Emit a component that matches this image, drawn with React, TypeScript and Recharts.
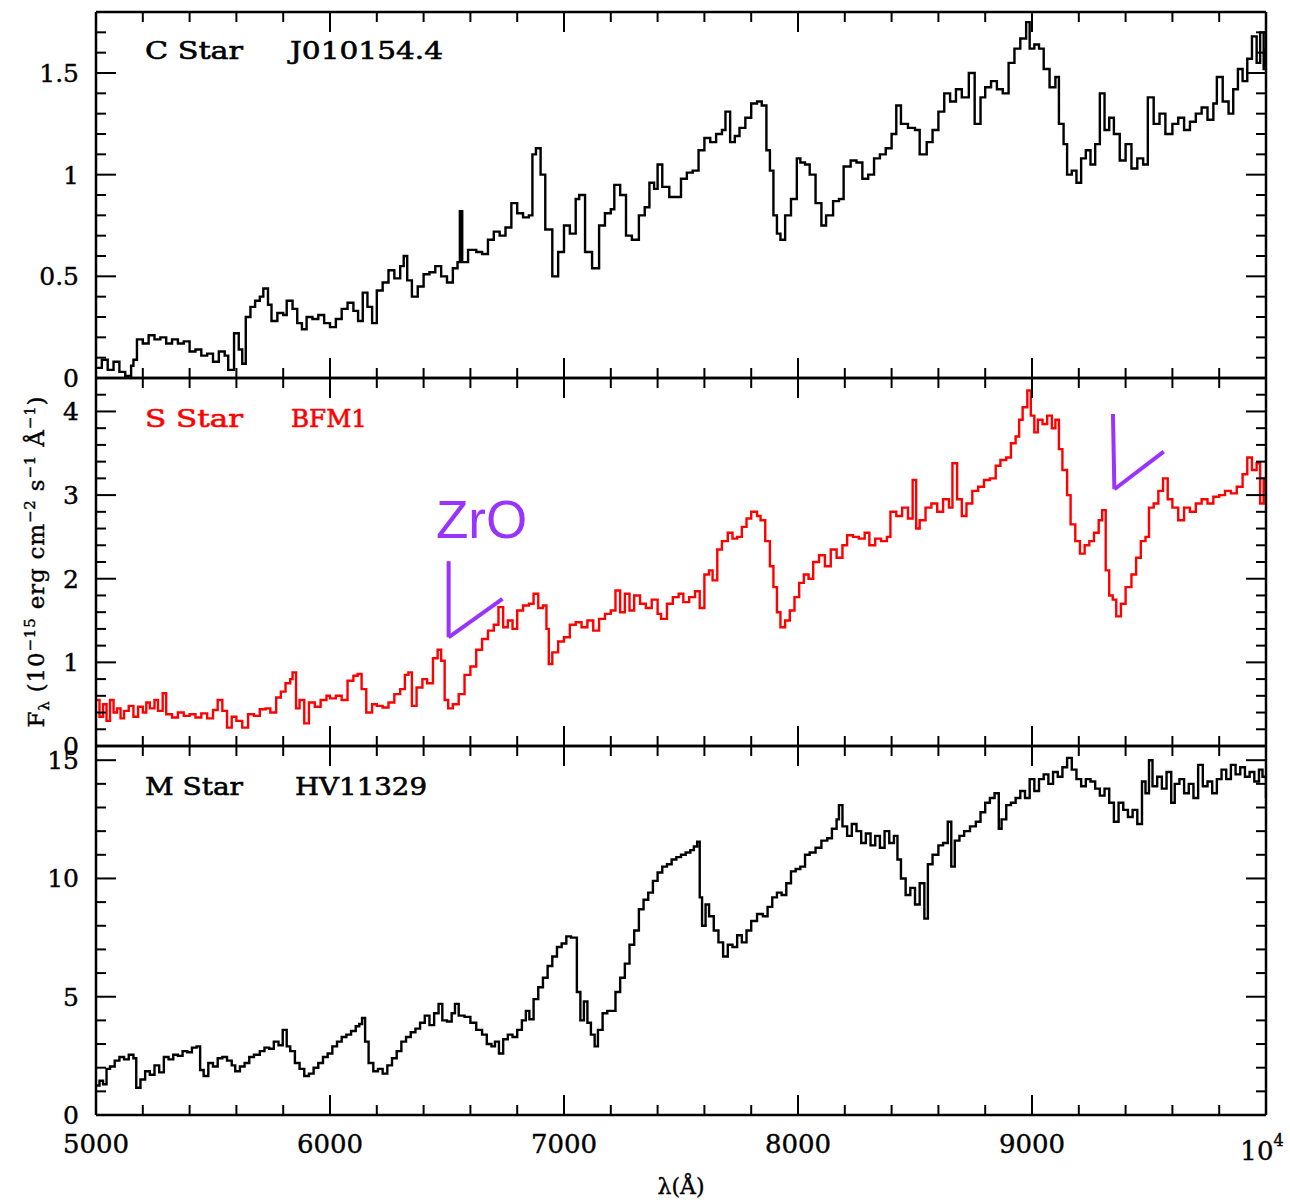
import React from 'react';
import { LineChart, Line, XAxis, YAxis, ReferenceLine, ReferenceDot } from 'recharts';

// wavelength (Å), flux (10^-15 erg cm^-2 s^-1 Å^-1)
const cStar: [number, number][] = [
  [5000, 0.05], [5025, 0.09], [5050, 0.04], [5075, 0.08], [5100, 0.03], [5125, 0.01], [5150, 0.06], [5160, 0.09],
  [5175, 0.19], [5200, 0.17], [5225, 0.21], [5250, 0.19], [5275, 0.2], [5300, 0.17], [5325, 0.19], [5350, 0.17],
  [5375, 0.18], [5400, 0.13], [5425, 0.14], [5450, 0.11], [5475, 0.12], [5500, 0.08], [5525, 0.13], [5550, 0.11],
  [5565, 0.04], [5590, 0.22], [5610, 0.14], [5625, 0.07], [5640, 0.3], [5660, 0.35], [5680, 0.38], [5700, 0.4],
  [5715, 0.44], [5735, 0.36], [5750, 0.28], [5775, 0.32], [5800, 0.31], [5815, 0.38], [5840, 0.34], [5860, 0.27],
  [5880, 0.24], [5900, 0.3], [5925, 0.29], [5950, 0.31], [5975, 0.27], [6000, 0.25], [6025, 0.29], [6050, 0.34],
  [6075, 0.37], [6100, 0.33], [6120, 0.28], [6140, 0.42], [6160, 0.35], [6180, 0.27], [6200, 0.43], [6225, 0.47],
  [6250, 0.53], [6275, 0.49], [6300, 0.55], [6315, 0.6], [6330, 0.48], [6350, 0.4], [6375, 0.45], [6400, 0.51],
  [6425, 0.52], [6450, 0.55], [6475, 0.5], [6500, 0.47], [6525, 0.54], [6545, 0.57], [6555, 0.82], [6565, 0.57],
  [6590, 0.63], [6625, 0.62], [6650, 0.61], [6675, 0.68], [6700, 0.72], [6725, 0.7], [6750, 0.74], [6775, 0.86],
  [6800, 0.81], [6825, 0.79], [6850, 0.8], [6865, 1.1], [6880, 1.13], [6900, 1.0], [6920, 0.73], [6950, 0.5],
  [6975, 0.62], [7000, 0.75], [7025, 0.71], [7050, 0.88], [7065, 0.9], [7090, 0.62], [7120, 0.54], [7150, 0.75],
  [7175, 0.81], [7200, 0.83], [7215, 0.95], [7240, 0.9], [7265, 0.7], [7290, 0.68], [7320, 0.8], [7345, 0.84],
  [7365, 0.96], [7385, 0.93], [7400, 1.05], [7420, 0.94], [7450, 0.89], [7475, 0.89], [7500, 0.98], [7525, 1.01],
  [7550, 1.02], [7575, 1.12], [7600, 1.18], [7625, 1.16], [7650, 1.2], [7675, 1.22], [7690, 1.31], [7710, 1.16],
  [7730, 1.19], [7750, 1.23], [7775, 1.28], [7800, 1.35], [7825, 1.36], [7845, 1.34], [7865, 1.12], [7880, 1.02],
  [7895, 0.8], [7910, 0.71], [7925, 0.68], [7945, 0.8], [7970, 0.88], [7995, 1.08], [8010, 1.06], [8030, 1.05],
  [8050, 1.0], [8075, 0.86], [8100, 0.75], [8120, 0.8], [8150, 0.87], [8175, 0.88], [8195, 1.04], [8225, 1.07],
  [8250, 1.06], [8275, 0.98], [8300, 1.0], [8325, 1.08], [8350, 1.1], [8375, 1.13], [8400, 1.2], [8420, 1.34],
  [8440, 1.25], [8470, 1.23], [8500, 1.22], [8520, 1.1], [8550, 1.16], [8575, 1.22], [8600, 1.31], [8625, 1.4],
  [8650, 1.36], [8675, 1.42], [8700, 1.38], [8730, 1.5], [8755, 1.25], [8780, 1.38], [8800, 1.43], [8825, 1.46],
  [8850, 1.42], [8875, 1.4], [8900, 1.55], [8925, 1.62], [8950, 1.67], [8975, 1.75], [8990, 1.62], [9010, 1.64],
  [9030, 1.62], [9050, 1.52], [9075, 1.43], [9100, 1.48], [9115, 1.25], [9135, 1.15], [9150, 1.0], [9170, 1.02],
  [9190, 0.96], [9210, 1.08], [9230, 1.12], [9250, 1.05], [9270, 1.15], [9290, 1.4], [9310, 1.22], [9330, 1.28],
  [9350, 1.2], [9375, 1.07], [9400, 1.15], [9425, 1.03], [9450, 1.08], [9475, 1.05], [9495, 1.38], [9520, 1.25],
  [9545, 1.3], [9570, 1.2], [9600, 1.25], [9625, 1.28], [9650, 1.22], [9675, 1.26], [9700, 1.3], [9725, 1.33],
  [9750, 1.27], [9775, 1.35], [9790, 1.48], [9815, 1.36], [9840, 1.3], [9860, 1.42], [9880, 1.52], [9900, 1.46],
  [9920, 1.57], [9940, 1.68], [9960, 1.55], [9975, 1.7], [9990, 1.52], [10000, 1.62],
];

const sStar: [number, number][] = [
  [5000, 0.55], [5015, 0.35], [5030, 0.5], [5045, 0.3], [5060, 0.55], [5075, 0.4], [5090, 0.45], [5105, 0.33],
  [5120, 0.42], [5140, 0.48], [5160, 0.35], [5180, 0.47], [5200, 0.4], [5215, 0.52], [5230, 0.45], [5250, 0.55],
  [5265, 0.42], [5285, 0.63], [5300, 0.38], [5325, 0.34], [5350, 0.4], [5375, 0.36], [5400, 0.38], [5425, 0.34],
  [5450, 0.39], [5475, 0.33], [5500, 0.43], [5520, 0.55], [5540, 0.42], [5560, 0.22], [5580, 0.35], [5600, 0.3],
  [5625, 0.22], [5650, 0.38], [5675, 0.36], [5700, 0.44], [5725, 0.45], [5745, 0.4], [5770, 0.58], [5790, 0.65],
  [5810, 0.75], [5830, 0.8], [5840, 0.88], [5855, 0.45], [5870, 0.55], [5890, 0.27], [5910, 0.52], [5935, 0.47],
  [5960, 0.55], [5985, 0.6], [6000, 0.57], [6025, 0.6], [6050, 0.55], [6075, 0.78], [6100, 0.84], [6118, 0.86],
  [6135, 0.68], [6155, 0.4], [6180, 0.5], [6200, 0.48], [6225, 0.46], [6250, 0.52], [6275, 0.62], [6300, 0.68],
  [6320, 0.85], [6335, 0.88], [6350, 0.48], [6370, 0.7], [6395, 0.8], [6415, 0.75], [6440, 1.05], [6460, 1.15],
  [6475, 1.02], [6490, 0.55], [6505, 0.45], [6525, 0.5], [6550, 0.62], [6575, 0.85], [6600, 0.95], [6625, 1.15],
  [6650, 1.28], [6675, 1.38], [6700, 1.45], [6720, 1.66], [6740, 1.42], [6760, 1.5], [6780, 1.4], [6800, 1.62],
  [6825, 1.68], [6850, 1.7], [6870, 1.82], [6890, 1.65], [6910, 1.68], [6925, 1.4], [6935, 0.98], [6950, 1.12],
  [6975, 1.25], [7000, 1.3], [7025, 1.45], [7050, 1.48], [7075, 1.42], [7100, 1.5], [7125, 1.38], [7150, 1.52],
  [7175, 1.58], [7200, 1.62], [7220, 1.86], [7240, 1.6], [7260, 1.82], [7280, 1.62], [7300, 1.8], [7325, 1.7],
  [7350, 1.65], [7375, 1.75], [7400, 1.58], [7415, 1.52], [7440, 1.7], [7465, 1.78], [7490, 1.82], [7510, 1.72],
  [7535, 1.78], [7560, 1.85], [7580, 1.65], [7600, 2.05], [7620, 2.1], [7635, 1.98], [7655, 2.35], [7675, 2.45],
  [7700, 2.55], [7720, 2.48], [7740, 2.5], [7760, 2.62], [7780, 2.72], [7800, 2.8], [7825, 2.75], [7840, 2.7],
  [7860, 2.45], [7880, 2.15], [7895, 1.9], [7910, 1.6], [7925, 1.42], [7945, 1.5], [7965, 1.62], [7985, 1.78],
  [8005, 1.95], [8025, 2.05], [8045, 2.0], [8065, 2.2], [8090, 2.28], [8115, 2.15], [8140, 2.35], [8165, 2.25],
  [8190, 2.4], [8210, 2.52], [8235, 2.5], [8260, 2.48], [8285, 2.55], [8305, 2.4], [8330, 2.48], [8355, 2.45],
  [8380, 2.5], [8395, 2.8], [8420, 2.75], [8445, 2.85], [8470, 2.72], [8490, 3.18], [8505, 2.6], [8520, 2.7],
  [8545, 2.85], [8570, 2.9], [8595, 2.8], [8620, 2.95], [8645, 2.85], [8660, 3.38], [8680, 2.95], [8700, 2.75],
  [8720, 2.9], [8745, 3.05], [8770, 3.1], [8795, 3.18], [8820, 3.2], [8845, 3.35], [8865, 3.42], [8890, 3.45],
  [8910, 3.62], [8930, 3.7], [8945, 3.9], [8960, 4.05], [8980, 4.25], [8995, 3.95], [9010, 3.75], [9025, 3.9],
  [9045, 3.85], [9065, 3.95], [9085, 3.8], [9100, 3.9], [9115, 3.55], [9130, 3.3], [9150, 3.0], [9165, 2.65],
  [9185, 2.45], [9205, 2.3], [9225, 2.4], [9245, 2.45], [9265, 2.55], [9285, 2.7], [9300, 2.82], [9315, 2.1],
  [9330, 1.8], [9345, 1.75], [9360, 1.55], [9380, 1.7], [9400, 1.9], [9425, 2.05], [9445, 2.25], [9465, 2.45],
  [9485, 2.5], [9500, 2.85], [9520, 2.9], [9540, 3.05], [9560, 3.2], [9580, 2.95], [9600, 2.85], [9625, 2.7],
  [9650, 2.85], [9675, 2.8], [9700, 2.9], [9725, 2.95], [9750, 2.9], [9775, 2.98], [9800, 3.0], [9825, 3.05],
  [9850, 3.02], [9875, 3.1], [9900, 3.25], [9920, 3.45], [9940, 3.3], [9960, 3.38], [9975, 2.9], [9990, 3.2],
  [10000, 3.05],
];

const mStar: [number, number][] = [
  [5000, 1.25], [5015, 1.45], [5030, 1.3], [5045, 1.95], [5060, 2.05], [5080, 2.3], [5100, 2.45], [5120, 2.35],
  [5140, 2.55], [5160, 2.4], [5172, 1.15], [5190, 1.5], [5210, 1.85], [5230, 1.7], [5250, 2.1], [5270, 1.8],
  [5290, 2.45], [5310, 2.35], [5330, 2.55], [5350, 2.5], [5370, 2.7], [5390, 2.65], [5410, 2.85], [5430, 2.9],
  [5445, 1.9], [5460, 1.65], [5480, 2.2], [5500, 2.05], [5520, 2.4], [5540, 2.45], [5560, 2.3], [5580, 2.1],
  [5595, 1.85], [5615, 2.05], [5635, 2.2], [5655, 2.45], [5675, 2.55], [5700, 2.7], [5720, 2.85], [5740, 2.8],
  [5760, 3.1], [5780, 2.95], [5798, 3.6], [5815, 2.9], [5830, 2.7], [5850, 2.2], [5870, 1.95], [5890, 1.65],
  [5910, 1.75], [5930, 2.0], [5950, 2.2], [5970, 2.45], [5990, 2.6], [6010, 2.9], [6030, 3.1], [6050, 3.3],
  [6070, 3.4], [6090, 3.55], [6110, 3.75], [6125, 3.85], [6137, 4.1], [6150, 3.1], [6165, 2.2], [6185, 1.85],
  [6205, 1.95], [6225, 1.75], [6245, 2.1], [6265, 2.4], [6285, 2.7], [6305, 3.1], [6325, 3.3], [6345, 3.5],
  [6365, 3.65], [6385, 3.9], [6405, 4.2], [6425, 3.8], [6445, 4.3], [6464, 4.7], [6480, 4.0], [6500, 3.95],
  [6520, 4.3], [6534, 4.7], [6550, 4.2], [6575, 4.15], [6600, 3.9], [6625, 3.6], [6650, 3.4], [6670, 3.0],
  [6690, 2.9], [6705, 3.1], [6722, 2.6], [6740, 3.2], [6760, 3.4], [6780, 3.3], [6800, 3.6], [6820, 4.0],
  [6837, 4.4], [6852, 4.05], [6870, 4.9], [6890, 5.4], [6910, 5.8], [6930, 6.3], [6950, 6.7], [6970, 7.1],
  [6990, 7.25], [7010, 7.55], [7030, 7.5], [7048, 7.5], [7055, 5.2], [7070, 4.0], [7085, 4.8], [7100, 3.9],
  [7115, 3.4], [7131, 2.9], [7145, 3.6], [7165, 4.3], [7185, 4.4], [7200, 4.4], [7220, 5.2], [7240, 5.8],
  [7260, 6.4], [7280, 7.2], [7300, 7.8], [7320, 8.7], [7340, 9.1], [7360, 9.4], [7380, 9.9], [7400, 10.25],
  [7420, 10.5], [7440, 10.6], [7460, 10.8], [7480, 10.9], [7500, 11.0], [7520, 11.1], [7540, 11.2], [7555, 11.35],
  [7569, 11.55], [7580, 9.2], [7590, 8.0], [7605, 8.9], [7620, 8.4], [7640, 7.8], [7660, 7.3], [7680, 6.7],
  [7700, 7.2], [7720, 7.1], [7740, 7.6], [7760, 7.3], [7780, 7.8], [7800, 8.2], [7825, 8.5], [7850, 8.4],
  [7870, 8.8], [7890, 9.2], [7910, 9.4], [7930, 9.3], [7950, 9.8], [7970, 10.3], [7990, 10.4], [8010, 10.5],
  [8030, 11.0], [8050, 11.1], [8075, 11.3], [8100, 11.6], [8125, 11.7], [8145, 12.1], [8165, 12.5], [8175, 13.1],
  [8190, 12.2], [8210, 11.8], [8230, 12.3], [8250, 12.0], [8270, 11.5], [8290, 11.9], [8310, 11.4], [8330, 11.8],
  [8350, 11.3], [8370, 12.0], [8390, 11.5], [8410, 11.8], [8425, 10.8], [8440, 10.0], [8460, 9.3], [8480, 9.6],
  [8500, 8.9], [8520, 9.8], [8540, 8.3], [8555, 10.6], [8575, 11.0], [8600, 11.4], [8620, 11.5], [8640, 12.4],
  [8655, 10.5], [8670, 11.6], [8690, 11.8], [8710, 12.0], [8735, 12.2], [8760, 12.4], [8780, 12.8], [8800, 13.2],
  [8820, 13.4], [8840, 13.6], [8858, 12.1], [8870, 12.5], [8890, 13.1], [8910, 13.2], [8930, 13.4], [8950, 13.7],
  [8970, 13.4], [8990, 14.2], [9010, 13.7], [9030, 14.2], [9050, 14.4], [9070, 14.0], [9090, 14.5], [9110, 14.3],
  [9130, 14.7], [9150, 15.1], [9170, 14.6], [9190, 14.2], [9210, 13.9], [9230, 14.2], [9250, 14.1], [9270, 13.8],
  [9290, 13.5], [9310, 13.8], [9330, 13.2], [9350, 12.4], [9370, 13.2], [9390, 12.9], [9410, 12.6], [9430, 12.9],
  [9450, 12.3], [9470, 14.1], [9485, 13.6], [9500, 15.0], [9515, 13.9], [9535, 14.3], [9555, 13.8], [9575, 14.5],
  [9595, 13.2], [9610, 14.0], [9630, 14.2], [9650, 13.6], [9670, 14.0], [9690, 13.4], [9710, 14.8], [9730, 13.9],
  [9750, 14.1], [9770, 13.6], [9790, 14.2], [9810, 14.6], [9830, 14.2], [9850, 14.8], [9870, 14.4], [9890, 14.7],
  [9910, 14.3], [9930, 14.5], [9950, 14.1], [9970, 14.6], [9985, 14.3], [10000, 13.4],
];

const waveTicks = [
  5000, 5200, 5400, 5600, 5800, 6000, 6200, 6400, 6600, 6800, 7000, 7200, 7400, 7600, 7800,
  8000, 8200, 8400, 8600, 8800, 9000, 9200, 9400, 9600, 9800, 10000,
];
const cTicks = [0, 0.1, 0.2, 0.3, 0.4, 0.5, 0.6, 0.7, 0.8, 0.9, 1, 1.1, 1.2, 1.3, 1.4, 1.5, 1.6, 1.7, 1.8];
const sTicks = [0, 0.2, 0.4, 0.6, 0.8, 1, 1.2, 1.4, 1.6, 1.8, 2, 2.2, 2.4, 2.6, 2.8, 3, 3.2, 3.4, 3.6, 3.8, 4, 4.2, 4.4];
const mTicks = [0, 1, 2, 3, 4, 5, 6, 7, 8, 9, 10, 11, 12, 13, 14, 15, 15.6];

// ZrO band markers in the S star panel: [wavelength, flux]
const zroMarkA: [number, number][] = [[6507, 2.21], [6507, 1.3], [6737, 1.76]];
const zroMarkB: [number, number][] = [[9346, 3.97], [9352, 3.07], [9563, 3.52]];
const zroText: [number, number] = [6453, 2.49];

const W = 1290;
const H = 1200;
const INK = '#000';
const VIOLET = '#9933ff';
const TICK_FONT = '"DejaVu Serif", serif';
const frame = { stroke: INK, strokeWidth: 2.5 };

const isMajor = (v: number, step: number) => Math.abs(v / step - Math.round(v / step)) < 1e-6;

function WaveTick(props: any) {
  const { x, y, payload, side, labels } = props;
  const v = payload.value;
  const major = isMajor(v, 1000);
  const len = major ? 20 : 10;
  const dir = side === 'bottom' ? -1 : 1;
  return (
    <g>
      <line x1={x} y1={y} x2={x} y2={y + dir * len} stroke={INK} strokeWidth={2} />
      {labels && major && v !== 10000 && (
        <text x={x} y={y + 38} textAnchor="middle" fontFamily={TICK_FONT} fontSize={26} fill={INK}
          stroke={INK} strokeWidth={0.4}>
          {v}
        </text>
      )}
      {labels && v === 10000 && (
        <text x={x - 4} y={y + 45} textAnchor="middle" fontFamily={TICK_FONT} fontSize={26} fill={INK}
          stroke={INK} strokeWidth={0.4}>
          10<tspan dy={-14} fontSize={16}>4</tspan>
        </text>
      )}
    </g>
  );
}

function FluxTick(props: any) {
  const { x, y, payload, side, step } = props;
  const v = payload.value;
  if (!isMajor(v, step / 5)) return <g />;
  const major = isMajor(v, step);
  const len = major ? 20 : 10;
  const dir = side === 'left' ? 1 : -1;
  return (
    <g>
      <line x1={x} y1={y} x2={x + dir * len} y2={y} stroke={INK} strokeWidth={2} />
      {side === 'left' && major && (
        <text x={x - 17} y={y + 9} textAnchor="end" fontFamily={TICK_FONT} fontSize={25} fill={INK}
          stroke={INK} strokeWidth={0.4}>
          {String(v)}
        </text>
      )}
    </g>
  );
}

type PanelProps = {
  data: [number, number][];
  color: string;
  ticks: number[];
  step: number;
  top: number;
  bottom: number;
  waveLabels?: boolean;
  children?: React.ReactNode;
};

// axes are 1px deep so they still render; margins absorb that pixel
function Panel({ data, color, ticks, step, top, bottom, waveLabels, children }: PanelProps) {
  const rows = data.map(([w, f]) => ({ w, f }));
  const yDomain = [ticks[0], ticks[ticks.length - 1]];
  return (
    <div style={{ position: 'absolute', left: 0, top: 0 }}>
      <LineChart width={W} height={H} data={rows} margin={{ top: top - 1, right: 23, bottom: H - bottom - 1, left: 36 }}>
        <XAxis
          xAxisId="b" dataKey="w" type="number" domain={[5000, 10000]} ticks={waveTicks} interval={0}
          height={1} tickSize={0} tickMargin={0} axisLine={frame} tickLine={false} allowDataOverflow
          tick={<WaveTick side="bottom" labels={waveLabels} />}
        />
        <XAxis
          xAxisId="t" orientation="top" dataKey="w" type="number" domain={[5000, 10000]} ticks={waveTicks}
          interval={0} height={1} tickSize={0} tickMargin={0} axisLine={frame} tickLine={false} allowDataOverflow
          tick={<WaveTick side="top" />}
        />
        <YAxis
          yAxisId="l" type="number" domain={yDomain} ticks={ticks} interval={0} width={60}
          tickSize={0} tickMargin={0} axisLine={frame} tickLine={false} allowDataOverflow
          tick={<FluxTick side="left" step={step} />}
        />
        <YAxis
          yAxisId="r" orientation="right" type="number" domain={yDomain} ticks={ticks} interval={0} width={1}
          tickSize={0} tickMargin={0} axisLine={frame} tickLine={false} allowDataOverflow
          tick={<FluxTick side="right" step={step} />}
        />
        <Line
          xAxisId="b" yAxisId="l" dataKey="f" type="stepAfter" stroke={color} strokeWidth={2.4}
          dot={false} isAnimationActive={false}
        />
        {children}
      </LineChart>
    </div>
  );
}

function zroMarks(mark: [number, number][], key: string) {
  return [0, 1].map((i) => (
    <ReferenceLine
      key={`${key}-${i}`}
      xAxisId="b"
      yAxisId="l"
      segment={[{ x: mark[i][0], y: mark[i][1] }, { x: mark[i + 1][0], y: mark[i + 1][1] }]}
      stroke={VIOLET}
      strokeWidth={4}
      ifOverflow="visible"
    />
  ));
}

const labelFont = '"DejaVu Serif", serif';

export default function App() {
  return (
    <div style={{ position: 'absolute', left: 0, top: 0, width: W, height: H, background: '#fff' }}>
      <Panel data={cStar} color={INK} ticks={cTicks} step={0.5} top={12} bottom={378} />
      <Panel data={sStar} color="#ff0000" ticks={sTicks} step={1} top={378} bottom={746}>
        {zroMarks(zroMarkA, 'a')}
        {zroMarks(zroMarkB, 'b')}
        <ReferenceDot
          xAxisId="b" yAxisId="l" x={zroText[0]} y={zroText[1]} r={1} fill="none" stroke="none"
          label={(p: any) => (
            <text x={p.viewBox.x + 1} y={p.viewBox.y + 1} fontFamily='"Liberation Sans", Arial, sans-serif'
              fontSize={53} fill={VIOLET}>
              ZrO
            </text>
          )}
        />
      </Panel>
      <Panel data={mStar} color={INK} ticks={mTicks} step={5} top={746} bottom={1115} waveLabels />
      <svg width={W} height={H} style={{ position: 'absolute', left: 0, top: 0, pointerEvents: 'none' }}>
        <g fontFamily={labelFont} fontSize={25} strokeWidth={0.6}>
          <text x={145} y={59} fill={INK} stroke={INK} textLength={98} lengthAdjust="spacingAndGlyphs">C Star</text>
          <text x={290} y={59} fill={INK} stroke={INK} textLength={153} lengthAdjust="spacingAndGlyphs">J010154.4</text>
          <text x={145} y={427} fill="#ff0000" stroke="#ff0000" textLength={98} lengthAdjust="spacingAndGlyphs">S Star</text>
          <text x={291} y={427} fill="#ff0000" stroke="#ff0000" textLength={76} lengthAdjust="spacingAndGlyphs">BFM1</text>
          <text x={145} y={795} fill={INK} stroke={INK} textLength={98} lengthAdjust="spacingAndGlyphs">M Star</text>
          <text x={295} y={795} fill={INK} stroke={INK} textLength={132} lengthAdjust="spacingAndGlyphs">HV11329</text>
        </g>
        <text
          transform="translate(44, 562) rotate(-90)" textAnchor="middle" fontFamily={labelFont} fontSize={23}
          fill={INK} stroke={INK} strokeWidth={0.4} textLength={331} lengthAdjust="spacing"
        >
          F<tspan fontSize={15} dy={5}>λ</tspan>
          <tspan dy={-5}> (10</tspan>
          <tspan fontSize={15} dy={-9}>−15</tspan>
          <tspan dy={9}> erg cm</tspan>
          <tspan fontSize={15} dy={-9}>−2</tspan>
          <tspan dy={9}> s</tspan>
          <tspan fontSize={15} dy={-9}>−1</tspan>
          <tspan dy={9}> Å</tspan>
          <tspan fontSize={15} dy={-9}>−1</tspan>
          <tspan dy={9}>)</tspan>
        </text>
        <text x={681} y={1194} textAnchor="middle" fontFamily={labelFont} fontSize={22} fill={INK}
          stroke={INK} strokeWidth={0.4}>
          λ(Å)
        </text>
      </svg>
    </div>
  );
}
